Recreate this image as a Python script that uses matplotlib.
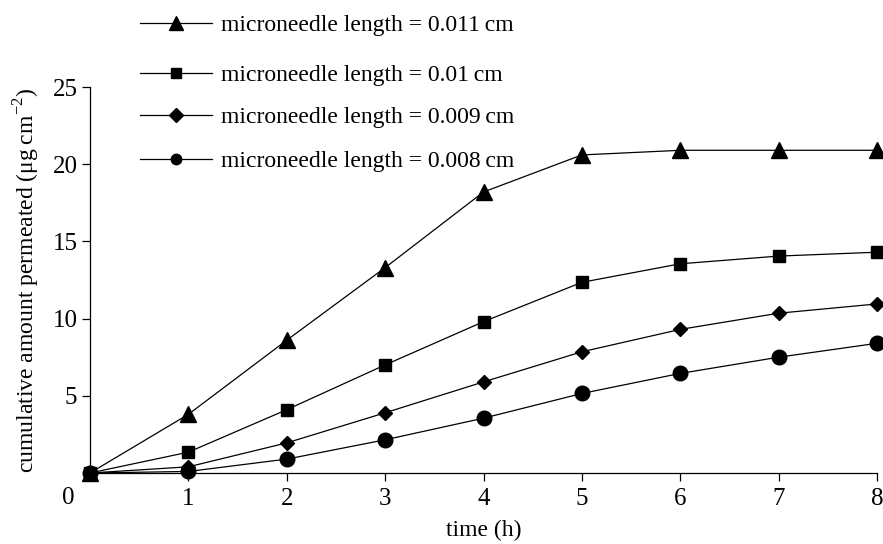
import matplotlib
matplotlib.use("Agg")
import matplotlib.pyplot as plt
from matplotlib.lines import Line2D

plt.rcParams['font.family'] = ['Liberation Serif', 'DejaVu Serif']
plt.rcParams['mathtext.fontset'] = 'custom'
plt.rcParams['mathtext.rm'] = 'Liberation Serif'

time_h = [0, 1, 2, 3, 4, 5, 6, 7, 8]
len_011 = [0.0, 3.8, 8.6, 13.3, 18.2, 20.6, 20.9, 20.9, 20.9]
len_010 = [0.0, 1.35, 4.1, 7.0, 9.8, 12.35, 13.55, 14.05, 14.3]
len_009 = [0.0, 0.4, 1.95, 3.9, 5.9, 7.85, 9.3, 10.35, 10.95]
len_008 = [0.0, 0.1, 0.9, 2.15, 3.55, 5.15, 6.45, 7.5, 8.4]
labels = ["microneedle length = 0.011\u2009cm",
          "microneedle length = 0.01\u2009cm",
          "microneedle length = 0.009\u2009cm",
          "microneedle length = 0.008\u2009cm"]
y_ticks = [5, 10, 15, 20, 25]
x_ticks = [1, 2, 3, 4, 5, 6, 7, 8]

W, H = 883, 544
fig = plt.figure(figsize=(W/100, H/100), dpi=100)
ax = fig.add_axes([90/W, 1-473/H, (877-90)/W, (473-87)/H])

series = [(len_011, '^', 11.5), (len_010, 's', 8), (len_009, 'D', 7.5), (len_008, 'o', 10.5)]
for vals, m, ms in series:
    ax.plot(time_h, vals, color='black', lw=0.9, marker=m, ms=ms,
            mfc='black', mec='black', clip_on=False, zorder=3)

ax.set_xlim(0, 8)
ax.set_ylim(0, 25)
ax.set_xticks(x_ticks)
ax.set_yticks(y_ticks)
ax.spines['top'].set_visible(False)
ax.spines['right'].set_visible(False)
for s in ['left', 'bottom']:
    ax.spines[s].set_linewidth(0.9)
ax.tick_params(axis='both', direction='out', length=6, width=0.9,
               labelsize=18, colors='black')
ax.tick_params(axis='x', pad=5)
ax.tick_params(axis='y', pad=3)
ax.text(68/W, 1-498/H, "0", transform=fig.transFigure, fontsize=18,
        ha='center', va='center')

ax.set_xlabel("time (h)", fontsize=17)
ax.xaxis.set_label_coords(0.5, 1-(530-87)/(473-87))
ax.xaxis.label.set_va('center')
ax.set_ylabel("cumulative amount permeated (\u03bcg\u2009cm$^{\u22122}$)", fontsize=17)
ax.yaxis.set_label_coords((42-90)/(877-90), 0.5)

row_y = [25, 75, 117, 161]
leg_ms = [9.5, 7, 7, 7.5]
for (vals, m, ms), lab, ry, lms in zip(series, labels, row_y, leg_ms):
    h = Line2D([], [], color='black', lw=0.9, marker=m, ms=lms, mfc='black', mec='black')
    fig.legend(handles=[h], labels=[lab], loc='center left',
               bbox_to_anchor=(140/W, 1-ry/H), bbox_transform=fig.transFigure,
               frameon=False, fontsize=17, handlelength=3.05, handletextpad=0.38,
               borderpad=0, borderaxespad=0)

fig.savefig("out.png", dpi=100)
